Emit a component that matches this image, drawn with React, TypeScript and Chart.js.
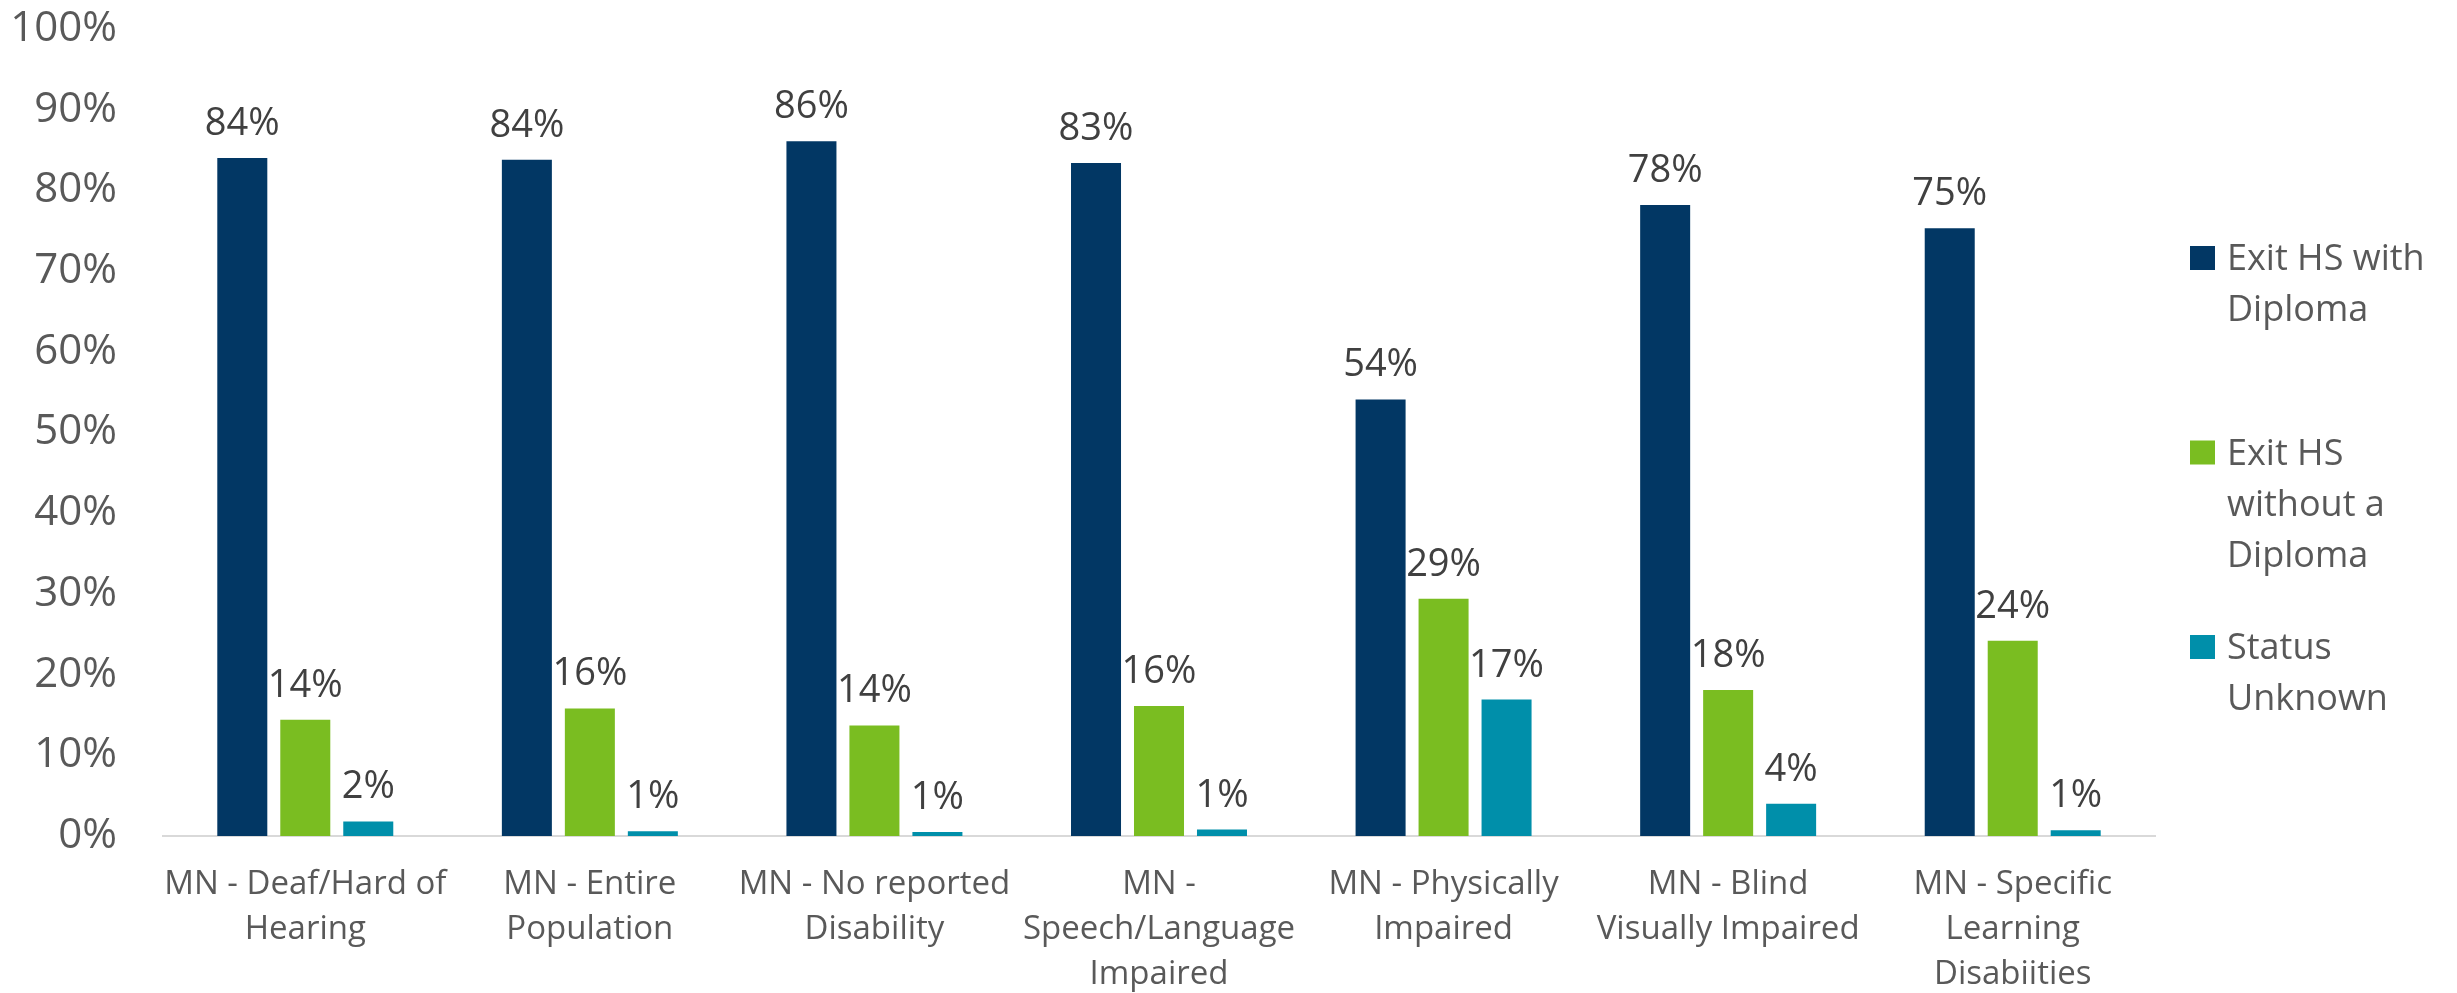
import React, { useEffect, useRef } from "react";
import { Chart, registerables } from "chart.js";

Chart.register(...registerables);

const categories: string[][] = [
  ["MN - Deaf/Hard of", "Hearing"],
  ["MN - Entire", "Population"],
  ["MN - No reported", "Disability"],
  ["MN -", "Speech/Language", "Impaired"],
  ["MN - Physically", "Impaired"],
  ["MN - Blind", "Visually Impaired"],
  ["MN - Specific", "Learning", "Disabiities"],
];

const withDiploma = [84.0, 83.8, 86.1, 83.4, 54.1, 78.2, 75.3];
const withoutDiploma = [14.4, 15.8, 13.7, 16.1, 29.4, 18.1, 24.2];
const statusUnknown = [1.8, 0.6, 0.5, 0.8, 16.9, 4.0, 0.7];

const seriesNames = ["Exit HS with Diploma", "Exit HS without a Diploma", "Status Unknown"];
const seriesColors = ["#023764", "#7ABD21", "#008FAA"];

const FONT = '"Open Sans", "Noto Sans", sans-serif';

const dataLabelPlugin = {
  id: "dataLabels",
  afterDatasetsDraw(chart: any) {
    const ctx = chart.ctx;
    ctx.save();
    ctx.font = `38px ${FONT}`;
    ctx.fillStyle = "#404040";
    ctx.textAlign = "center";
    ctx.textBaseline = "alphabetic";
    chart.data.datasets.forEach((ds: any, i: number) => {
      const meta = chart.getDatasetMeta(i);
      meta.data.forEach((el: any, j: number) => {
        const v = ds.data[j] as number;
        ctx.fillText(Math.round(v) + "%", el.x, el.y - 23);
      });
    });
    ctx.restore();
  },
};

function wrap(ctx: CanvasRenderingContext2D, text: string, maxW: number): string[] {
  const words = text.split(" ");
  const lines: string[] = [];
  let cur = "";
  for (const w of words) {
    const test = cur ? cur + " " + w : w;
    if (cur && ctx.measureText(test).width > maxW) {
      lines.push(cur);
      cur = w;
    } else {
      cur = test;
    }
  }
  if (cur) lines.push(cur);
  return lines;
}

const legendPlugin = {
  id: "sideLegend",
  afterDraw(chart: any) {
    const { ctx, chartArea } = chart;
    ctx.save();
    ctx.font = `36px ${FONT}`;
    ctx.textAlign = "left";
    ctx.textBaseline = "alphabetic";
    const markerX = chartArea.right + 35;
    const textX = chartArea.right + 72;
    const firstBaseline = chartArea.top + 241;
    const itemSpacing = 194.5;
    const lineH = 51;
    chart.data.datasets.forEach((ds: any, i: number) => {
      const base = firstBaseline + i * itemSpacing;
      ctx.fillStyle = ds.backgroundColor;
      ctx.fillRect(markerX, base - 24, 25, 24);
      ctx.fillStyle = "#595959";
      const lines = wrap(ctx, ds.label, 225);
      lines.forEach((ln, k) => ctx.fillText(ln, textX, base + k * lineH));
    });
    ctx.restore();
  },
};

export default function App() {
  const canvasRef = useRef<HTMLCanvasElement | null>(null);

  useEffect(() => {
    document.body.style.margin = "0";
    const canvas = canvasRef.current;
    if (!canvas) return;
    const values = [withDiploma, withoutDiploma, statusUnknown];
    const chart = new Chart(canvas, {
      type: "bar",
      data: {
        labels: categories,
        datasets: seriesNames.map((name, i) => ({
          label: name,
          data: values[i],
          backgroundColor: seriesColors[i],
          borderWidth: 0,
          categoryPercentage: 0.664,
          barPercentage: 0.794,
        })),
      },
      options: {
        animation: false,
        responsive: false,
        devicePixelRatio: 1,
        layout: { padding: { top: 29, right: 302, bottom: 0, left: 0 } },
        plugins: {
          legend: { display: false },
          tooltip: { enabled: false },
        },
        scales: {
          x: {
            grid: { display: false, drawTicks: false },
            border: { display: true, color: "#D9D9D9", width: 2 },
            ticks: {
              font: { family: FONT, size: 33, lineHeight: 1.36 },
              color: "#595959",
              padding: 26,
              autoSkip: false,
              maxRotation: 0,
              minRotation: 0,
            },
            afterFit: (s: any) => {
              s.height = 157;
              s.paddingLeft = 0;
              s.paddingRight = 0;
            },
          },
          y: {
            min: 0,
            max: 100,
            grid: { display: false, drawTicks: false },
            border: { display: false },
            ticks: {
              stepSize: 10,
              font: { family: FONT, size: 42 },
              color: "#595959",
              padding: 46,
              callback: (v: any) => v + "%",
            },
            afterFit: (s: any) => {
              s.width = 163;
              s.paddingTop = 0;
              s.paddingBottom = 0;
            },
          },
        },
      },
      plugins: [dataLabelPlugin, legendPlugin],
    } as any);

    let alive = true;
    if ((document as any).fonts) {
      Promise.all([(document as any).fonts.load(`42px "Open Sans"`)])
        .catch(() => {})
        .then(() => {
          if (alive) chart.update();
        });
    }
    return () => {
      alive = false;
      chart.destroy();
    };
  }, []);

  return (
    <div style={{ width: 2457, height: 993 }}>
      <canvas ref={canvasRef} width={2457} height={993} style={{ display: "block" }} />
    </div>
  );
}
